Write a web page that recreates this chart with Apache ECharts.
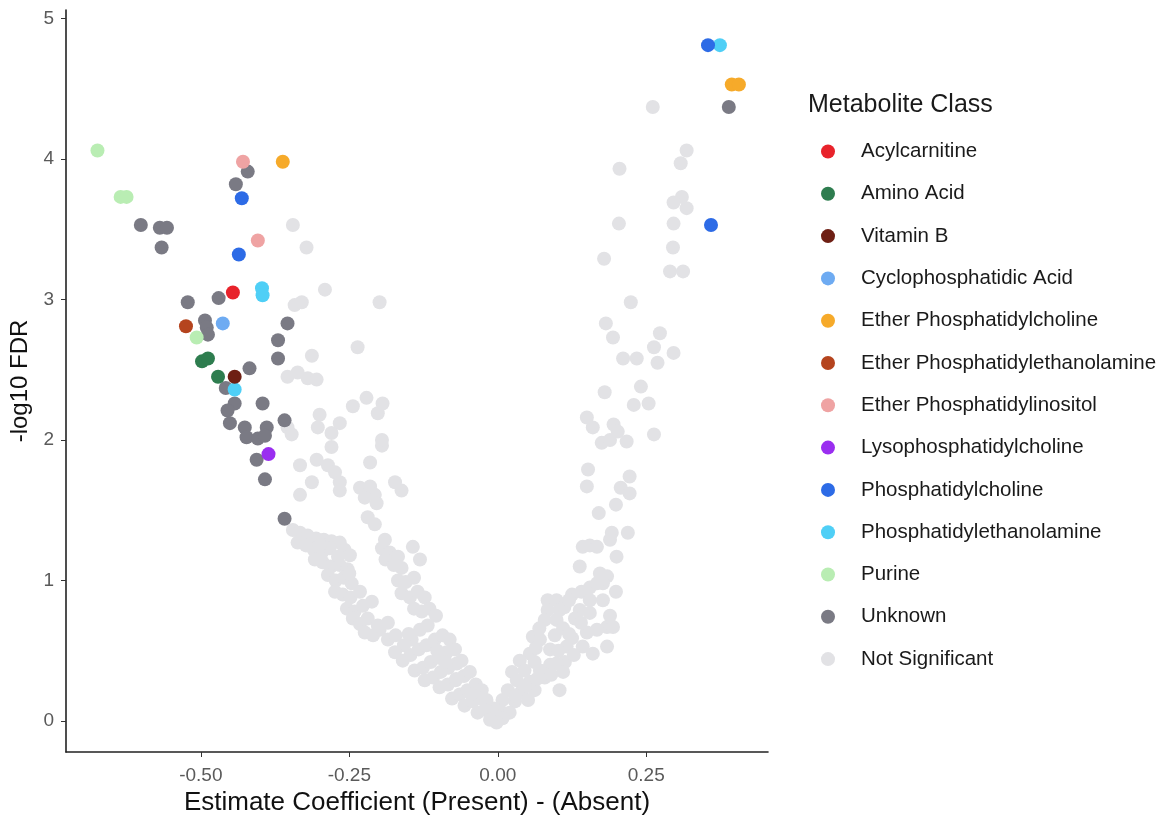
<!DOCTYPE html>
<html>
<head>
<meta charset="utf-8">
<title>Volcano plot</title>
<script src="https://cdn.jsdelivr.net/npm/echarts@6.0.0/dist/echarts.min.js"></script>
<style>
  html, body { margin: 0; padding: 0; background: #fff; }
  #chart { width: 1164px; height: 819px; }
</style>
</head>
<body>
<div id="chart"></div>
<script>
// values: [estimate coefficient, -log10 FDR]
var acylcarnitine = [[-0.446, 3.05]];
var aminoAcid = [[-0.498, 2.56], [-0.488, 2.58], [-0.471, 2.45]];
var vitaminB = [[-0.443, 2.45]];
var cycloPA = [[-0.463, 2.83]];
var etherPC = [[-0.362, 3.98], [0.394, 4.53], [0.406, 4.53]];
var etherPE = [[-0.525, 2.81]];
var etherPI = [[-0.429, 3.98], [-0.404, 3.42]];
var lysoPC = [[-0.386, 1.90]];
var phosphoPC = [[-0.431, 3.72], [-0.436, 3.32], [0.354, 4.81], [0.359, 3.53]];
var phosphoPE = [[-0.397, 3.08], [-0.396, 3.03], [0.374, 4.81], [-0.443, 2.36]];
var purine = [[-0.674, 4.06], [-0.635, 3.73], [-0.625, 3.73], [-0.507, 2.73]];
var unknown = [
  [-0.421, 3.91], [-0.441, 3.82], [-0.601, 3.53], [-0.569, 3.51], [-0.557, 3.51],
  [-0.566, 3.37], [-0.470, 3.01], [-0.522, 2.98], [-0.493, 2.85], [-0.490, 2.80],
  [-0.488, 2.75], [-0.354, 2.83], [-0.370, 2.71], [-0.370, 2.58], [-0.418, 2.51],
  [-0.458, 2.37], [-0.443, 2.26], [-0.455, 2.21], [-0.396, 2.26], [-0.451, 2.12],
  [-0.426, 2.09], [-0.389, 2.09], [-0.423, 2.02], [-0.404, 2.01], [-0.392, 2.03],
  [-0.359, 2.14], [-0.406, 1.86], [-0.392, 1.72], [-0.359, 1.44], [0.389, 4.37]
];
var notSignificant = [
  // right arm, upper part
  [0.261, 4.37], [0.318, 4.06], [0.308, 3.97], [0.205, 3.93], [0.310, 3.73],
  [0.296, 3.69], [0.318, 3.65], [0.204, 3.54], [0.296, 3.54], [0.295, 3.37],
  [0.179, 3.29], [0.290, 3.20], [0.312, 3.20], [0.224, 2.98], [0.182, 2.83],
  [0.194, 2.73], [0.273, 2.76], [0.263, 2.66], [0.269, 2.55], [0.296, 2.62],
  [0.211, 2.58], [0.234, 2.58], [0.180, 2.34], [0.241, 2.38], [0.229, 2.25],
  [0.254, 2.26], [0.150, 2.16], [0.160, 2.09], [0.195, 2.11], [0.202, 2.06],
  [0.175, 1.98], [0.189, 2.00], [0.217, 1.99], [0.263, 2.04], [0.152, 1.79],
  [0.150, 1.67], [0.222, 1.74], [0.207, 1.66], [0.222, 1.62], [0.199, 1.54],
  [0.170, 1.48], [0.192, 1.34], [0.219, 1.34], [0.189, 1.29], [0.143, 1.24],
  [0.155, 1.25], [0.167, 1.24], [0.200, 1.17], [0.138, 1.10], [0.172, 1.05],
  [0.184, 1.03], [0.177, 0.98], [0.199, 0.92],
  // right arm, dense band
  [0.125, 0.90], [0.141, 0.92], [0.155, 0.95], [0.167, 0.98], [0.084, 0.86],
  [0.099, 0.86], [0.155, 0.86], [0.177, 0.86], [0.084, 0.79], [0.104, 0.79],
  [0.138, 0.79], [0.079, 0.72], [0.099, 0.72], [0.130, 0.73], [0.155, 0.77],
  [0.189, 0.75], [0.184, 0.67], [0.167, 0.65], [0.150, 0.63], [0.059, 0.60],
  [0.125, 0.59], [0.184, 0.53], [0.054, 0.48], [0.088, 0.51], [0.116, 0.53],
  [0.143, 0.53], [0.071, 0.58], [0.096, 0.61], [0.037, 0.43], [0.062, 0.42],
  [0.088, 0.40], [0.113, 0.42], [0.160, 0.48], [0.024, 0.35], [0.045, 0.36],
  [0.071, 0.36], [0.099, 0.41], [0.032, 0.29], [0.054, 0.28], [0.079, 0.31],
  [0.104, 0.22], [0.017, 0.22], [0.040, 0.21], [0.062, 0.22], [0.008, 0.15],
  [0.029, 0.14], [0.051, 0.15], [0.003, 0.08], [0.020, 0.06], [0.008, 0.02],
  [0.194, 0.67], [0.110, 0.66], [0.128, 0.47], [0.030, 0.18], [0.046, 0.25],
  [0.066, 0.30], [0.090, 0.33], [0.110, 0.35], [0.064, 0.52], [0.102, 0.50],
  [0.120, 0.62], [0.140, 0.70], [0.112, 0.81], [0.120, 0.86], [0.070, 0.66],
  // vertex
  [-0.002, -0.01], [-0.010, 0.04], [-0.007, 0.09],
  // left arm, lower merged band
  [-0.199, 0.65], [-0.185, 0.58], [-0.172, 0.61], [-0.158, 0.54], [-0.145, 0.58],
  [-0.131, 0.65], [-0.118, 0.68], [-0.173, 0.49], [-0.160, 0.43], [-0.147, 0.47],
  [-0.133, 0.51], [-0.120, 0.54], [-0.106, 0.58], [-0.093, 0.61], [-0.081, 0.58],
  [-0.140, 0.36], [-0.126, 0.38], [-0.113, 0.42], [-0.099, 0.45], [-0.086, 0.49],
  [-0.072, 0.51], [-0.123, 0.29], [-0.109, 0.31], [-0.096, 0.35], [-0.083, 0.38],
  [-0.069, 0.41], [-0.061, 0.43], [-0.098, 0.24], [-0.084, 0.26], [-0.071, 0.29],
  [-0.057, 0.32], [-0.047, 0.35], [-0.077, 0.16], [-0.064, 0.19], [-0.051, 0.22],
  [-0.037, 0.26], [-0.027, 0.22], [-0.056, 0.11], [-0.042, 0.14], [-0.030, 0.16],
  [-0.019, 0.15], [-0.034, 0.06], [-0.022, 0.08], [-0.010, 0.06], [-0.013, 0.01],
  [-0.150, 0.62], [-0.102, 0.50], [-0.070, 0.30], [-0.045, 0.19], [-0.088, 0.42],
  // left arm, upper block
  [-0.345, 1.36], [-0.333, 1.34], [-0.320, 1.32], [-0.306, 1.30], [-0.293, 1.29],
  [-0.280, 1.28], [-0.266, 1.27], [-0.337, 1.27], [-0.323, 1.25], [-0.310, 1.22],
  [-0.296, 1.20], [-0.283, 1.23], [-0.258, 1.22], [-0.249, 1.18], [-0.269, 1.17],
  [-0.308, 1.15], [-0.295, 1.13], [-0.281, 1.10], [-0.266, 1.11], [-0.253, 1.08],
  [-0.286, 1.04], [-0.273, 1.00], [-0.259, 1.02], [-0.246, 0.98], [-0.274, 0.92],
  [-0.261, 0.90], [-0.248, 0.88], [-0.232, 0.92], [-0.254, 0.80], [-0.241, 0.78],
  [-0.227, 0.82], [-0.244, 0.73], [-0.232, 0.69], [-0.219, 0.73], [-0.224, 0.63],
  [-0.210, 0.61], [-0.202, 0.68], [-0.300, 1.25], [-0.250, 1.05], [-0.212, 0.85],
  [-0.185, 0.70],
  // left arm, side branch
  [-0.195, 1.23], [-0.182, 1.20], [-0.168, 1.17], [-0.189, 1.15], [-0.175, 1.11],
  [-0.162, 1.09], [-0.168, 1.00], [-0.155, 0.99], [-0.141, 1.02], [-0.162, 0.91],
  [-0.148, 0.88], [-0.135, 0.92], [-0.123, 0.88], [-0.141, 0.80], [-0.128, 0.78],
  [-0.115, 0.80], [-0.104, 0.75],
  // left arm, scattered
  [-0.195, 1.96], [-0.280, 1.95], [-0.333, 1.82], [-0.305, 1.86], [-0.286, 1.82],
  [-0.274, 1.77], [-0.266, 1.70], [-0.266, 1.64], [-0.313, 1.70], [-0.333, 1.61],
  [-0.215, 1.84], [-0.232, 1.66], [-0.215, 1.67], [-0.207, 1.61], [-0.204, 1.55],
  [-0.224, 1.59], [-0.173, 1.70], [-0.162, 1.64], [-0.219, 1.45], [-0.207, 1.40],
  [-0.190, 1.29], [-0.143, 1.24], [-0.131, 1.15],
  // left arm, upper scattered
  [-0.345, 3.53], [-0.322, 3.37], [-0.291, 3.07], [-0.342, 2.96], [-0.330, 2.98],
  [-0.199, 2.98], [-0.236, 2.66], [-0.313, 2.60], [-0.354, 2.45], [-0.337, 2.48],
  [-0.320, 2.44], [-0.305, 2.43], [-0.221, 2.30], [-0.244, 2.24], [-0.194, 2.26],
  [-0.202, 2.19], [-0.354, 2.09], [-0.347, 2.04], [-0.300, 2.18], [-0.303, 2.09],
  [-0.266, 2.12], [-0.280, 2.05], [-0.195, 2.00]
];

var classNames = [
  'Acylcarnitine', 'Amino Acid', 'Vitamin B', 'Cyclophosphatidic Acid',
  'Ether Phosphatidylcholine', 'Ether Phosphatidylethanolamine',
  'Ether Phosphatidylinositol', 'Lysophosphatidylcholine', 'Phosphatidylcholine',
  'Phosphatidylethanolamine', 'Purine', 'Unknown', 'Not Significant'
];
var classData = [
  acylcarnitine, aminoAcid, vitaminB, cycloPA, etherPC, etherPE, etherPI,
  lysoPC, phosphoPC, phosphoPE, purine, unknown, notSignificant
];
var classColors = [
  '#E8232B', '#2E7D4F', '#6E1F14', '#6EABF2', '#F6AA2A', '#B5441E', '#EFA3A3',
  '#9A2EF0', '#2D6BE6', '#4FCFF6', '#B9EDB3', '#7A7A84', '#E2E2E5'
];
var xTicks = [-0.5, -0.25, 0, 0.25];
var yTicks = [0, 1, 2, 3, 4, 5];

var FONT = 'Liberation Sans, Arial, sans-serif';

var series = [];
// not significant first so it sits underneath
for (var k = classNames.length - 1; k >= 0; k--) {
  series.push({
    name: classNames[k],
    type: 'scatter',
    data: classData[k],
    symbol: 'circle',
    symbolSize: 14,
    itemStyle: { color: classColors[k], opacity: 1 },
    z: k == classNames.length - 1 ? 1 : 2
  });
}

var chart = echarts.init(document.getElementById('chart'));
chart.setOption({
  animation: false,
  backgroundColor: '#ffffff',
  textStyle: { fontFamily: FONT },
  title: {
    text: 'Metabolite Class',
    left: 808,
    top: 93,
    padding: 0,
    textStyle: { fontSize: 25, fontWeight: 'normal', color: '#1a1a1a', fontFamily: FONT }
  },
  legend: {
    orient: 'vertical',
    left: 821,
    top: 141,
    padding: 0,
    itemWidth: 14,
    itemHeight: 14,
    itemGap: 21.3,
    icon: 'circle',
    data: classNames,
    textStyle: { fontSize: 20.5, color: '#1a1a1a', lineHeight: 20, padding: [0, 0, 0, 21], fontFamily: FONT }
  },
  grid: { left: 66, right: 396, top: 10, bottom: 67, containLabel: false, outerBoundsMode: 'none' },
  xAxis: {
    type: 'value',
    min: -0.727,
    max: 0.455,
    name: 'Estimate Coefficient (Present) - (Absent)',
    nameLocation: 'middle',
    nameGap: 38,
    nameTextStyle: { fontSize: 26, color: '#111' },
    splitLine: { show: false },
    axisLine: { onZero: false, lineStyle: { color: '#222', width: 1.6 } },
    axisTick: { length: 5, lineStyle: { color: '#333' }, customValues: xTicks },
    axisLabel: {
      customValues: xTicks,
      margin: 14,
      fontSize: 19,
      color: '#5a5a5a',
      formatter: function (v) { return v.toFixed(2); }
    }
  },
  yAxis: {
    type: 'value',
    min: -0.22,
    max: 5.06,
    name: '-log10 FDR',
    nameLocation: 'middle',
    nameGap: 24,
    nameRotate: 90,
    nameTextStyle: { fontSize: 24, color: '#111' },
    splitLine: { show: false },
    axisLine: { show: true, onZero: false, lineStyle: { color: '#222', width: 1.6 } },
    axisTick: { show: true, length: 5, lineStyle: { color: '#333' }, customValues: yTicks },
    axisLabel: {
      customValues: yTicks,
      margin: 12,
      fontSize: 19,
      color: '#5a5a5a'
    }
  },
  series: series
});
</script>
</body>
</html>
